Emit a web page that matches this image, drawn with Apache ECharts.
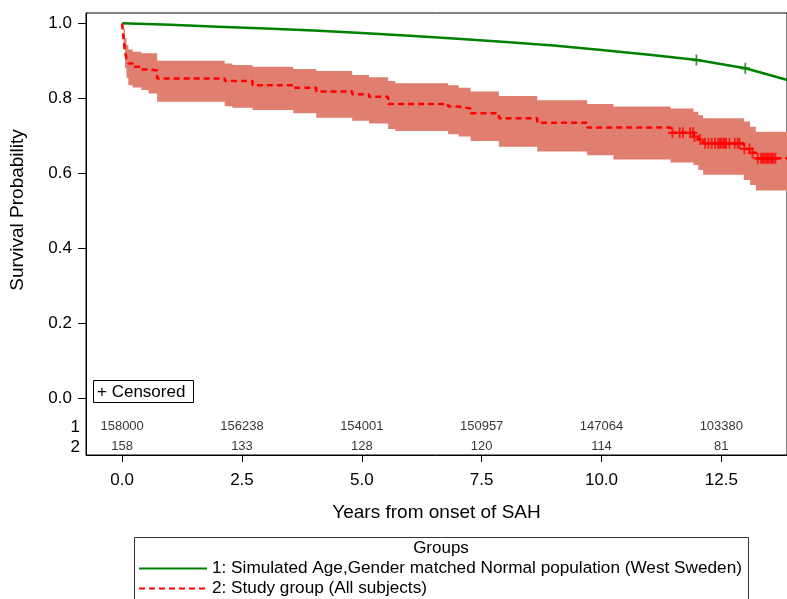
<!DOCTYPE html>
<html><head><meta charset="utf-8">
<script src="https://cdn.jsdelivr.net/npm/echarts@6/dist/echarts.min.js"></script>
<style>html,body{margin:0;padding:0;background:#fff;overflow:hidden}#c{width:787px;height:599px}</style>
</head><body><div id="c"></div>
<script>
// ---- data ----
const xTicks = [0, 2.5, 5, 7.5, 10, 12.5];
const yTicks = [0, 0.2, 0.4, 0.6, 0.8, 1.0];
const groupNames = ['1: Simulated Age,Gender matched Normal population (West Sweden)', '2: Study group (All subjects)'];

const normTime = [0, 1, 2, 3, 4, 5, 6, 7, 8, 9, 10, 11, 12, 13, 13.9];
const normSurv = [1.000, 0.996, 0.991, 0.986, 0.981, 0.974, 0.967, 0.959, 0.950, 0.941, 0.929, 0.916, 0.902, 0.880, 0.848];
const normCensorTime = [11.98, 13.0];
const normCensorSurv = [0.902, 0.880];

const studyTime  = [0, 0.03, 0.06, 0.09, 0.13, 0.22, 0.4, 0.55, 0.73, 2.14, 2.3, 2.72, 3.57, 4.05, 4.8, 5.15, 5.55, 5.7, 6.8, 7.02, 7.27, 7.86, 8.66, 9.7, 10.25, 11.44, 11.92, 12.02, 12.12, 12.97, 13.1, 13.22, 13.9];
const studySurv  = [1.0, 0.96, 0.925, 0.905, 0.893, 0.884, 0.877, 0.874, 0.853, 0.846, 0.846, 0.835, 0.828, 0.818, 0.811, 0.804, 0.785, 0.785, 0.778, 0.773, 0.760, 0.747, 0.735, 0.722, 0.722, 0.708, 0.698, 0.690, 0.680, 0.665, 0.655, 0.640, 0.640];
const studyUpper = [1.0, 0.985, 0.96, 0.942, 0.93, 0.924, 0.92, 0.92, 0.90, 0.893, 0.889, 0.884, 0.878, 0.873, 0.862, 0.856, 0.846, 0.84, 0.835, 0.828, 0.818, 0.806, 0.795, 0.785, 0.778, 0.773, 0.764, 0.755, 0.747, 0.738, 0.724, 0.711, 0.711];
const studyLower = [1.0, 0.93, 0.88, 0.855, 0.835, 0.829, 0.822, 0.813, 0.791, 0.779, 0.775, 0.769, 0.76, 0.748, 0.74, 0.733, 0.718, 0.713, 0.704, 0.698, 0.686, 0.671, 0.658, 0.648, 0.637, 0.629, 0.622, 0.609, 0.596, 0.582, 0.569, 0.554, 0.554];
const studyCensorTime = [11.48, 11.63, 11.70, 11.85, 11.91, 11.94, 12.06, 12.16, 12.23, 12.30, 12.37, 12.43, 12.47, 12.50, 12.54, 12.57, 12.60, 12.67, 12.78, 12.84, 12.88, 12.98, 13.09, 13.15, 13.26, 13.33, 13.36, 13.39, 13.43, 13.46, 13.49, 13.53, 13.56, 13.59, 13.63];

const atRiskTimes = [0, 2.5, 5, 7.5, 10, 12.5];
const atRiskNormal = [158000, 156238, 154001, 150957, 147064, 103380];
const atRiskStudy = [158, 133, 128, 120, 114, 81];

// ---- chart ----
const FONT = '"Liberation Sans", Arial, Helvetica, sans-serif';
const stepVal = t => { let v = studySurv[0]; for (let i = 0; i < studyTime.length; i++) { if (studyTime[i] <= t) v = studySurv[i]; } return v; };
const plus = 'path://M4,0H6V10H4Z M0,4H10V6H0Z';
const chart = echarts.init(document.getElementById('c'), null, {renderer: 'canvas'});

function renderBand(params, api) {
  if (params.dataIndex !== 0) return null;
  const n = studyTime.length;
  const pts = [];
  for (let i = 0; i < n; i++) {
    const x0 = studyTime[i], x1 = i < n - 1 ? studyTime[i + 1] : studyTime[i];
    pts.push(api.coord([x0, studyUpper[i]]), api.coord([x1, studyUpper[i]]));
  }
  for (let i = n - 1; i >= 0; i--) {
    const x0 = studyTime[i], x1 = i < n - 1 ? studyTime[i + 1] : studyTime[i];
    pts.push(api.coord([x1, studyLower[i]]), api.coord([x0, studyLower[i]]));
  }
  return {type: 'polygon', shape: {points: pts}, style: {fill: '#E07F6F', stroke: 'none'}};
}

const option = {
  animation: false,
  textStyle: {fontFamily: FONT},
  grid: {left: 86, top: 13, right: -11, bottom: 144, show: true, borderColor: '#000', borderWidth: 1, backgroundColor: 'transparent'},
  xAxis: {
    type: 'value', min: -0.754, max: 13.87,
    name: 'Years from onset of SAH', nameLocation: 'middle', nameGap: 48,
    nameTextStyle: {fontSize: 19, color: '#000', fontFamily: FONT},
    axisLine: {show: true, onZero: false, lineStyle: {color: '#000', width: 1}},
    axisTick: {show: true, length: 7, customValues: xTicks, lineStyle: {color: '#000'}},
    axisLabel: {customValues: xTicks, formatter: v => Number(v).toFixed(1), fontSize: 17, color: '#000', margin: 17, fontFamily: FONT},
    splitLine: {show: false}
  },
  yAxis: {
    type: 'value', min: -0.151, max: 1.0275,
    axisLine: {show: true, onZero: false, lineStyle: {color: '#000', width: 1}},
    axisTick: {show: true, length: 8, customValues: yTicks, lineStyle: {color: '#000'}},
    axisLabel: {customValues: yTicks, formatter: v => Number(v).toFixed(1), fontSize: 17, color: '#000', margin: 14, fontFamily: FONT},
    splitLine: {show: false}
  },
  legend: {
    data: groupNames, orient: 'vertical', left: 138, top: 560, padding: 0,
    itemWidth: 68, itemHeight: 14, itemGap: 3, selectedMode: false,
    itemStyle: {opacity: 0},
    textStyle: {fontSize: 17.2, color: '#000', fontFamily: FONT}
  },
  graphic: [
    {type: 'rect', shape: {x: 134.5, y: 537.5, width: 614, height: 70}, style: {fill: 'none', stroke: '#333', lineWidth: 1}, silent: true},
    {type: 'text', x: 441, y: 548, style: {text: 'Groups', fontSize: 17, fontFamily: FONT, fill: '#000', align: 'center', verticalAlign: 'middle'}},
    {type: 'rect', shape: {x: 93.5, y: 380.5, width: 100, height: 22}, style: {fill: '#fff', stroke: '#000', lineWidth: 1}, z: 100},
    {type: 'text', x: 97, y: 392, z: 101, style: {text: '+ Censored', fontSize: 17, fontFamily: FONT, fill: '#000', align: 'left', verticalAlign: 'middle'}},
    {type: 'text', x: 80, y: 427, style: {text: '1', fontSize: 17, fontFamily: FONT, fill: '#000', align: 'right', verticalAlign: 'middle'}},
    {type: 'text', x: 80, y: 447, style: {text: '2', fontSize: 17, fontFamily: FONT, fill: '#000', align: 'right', verticalAlign: 'middle'}},
    {type: 'text', x: 18, y: 210, rotation: Math.PI / 2, style: {text: 'Survival Probability', fontSize: 19, fontFamily: FONT, fill: '#000', align: 'center', verticalAlign: 'middle'}}
  ],
  series: [
    {name: 'band', type: 'custom', z: 1, silent: true, clip: true, renderItem: renderBand,
     encode: {x: 0, y: [1, 2]},
     data: studyTime.map((t, i) => [t, studyUpper[i], studyLower[i]])},
    {name: groupNames[0], type: 'line', symbol: 'none', z: 3,
     data: normTime.map((t, i) => [t, normSurv[i]]),
     lineStyle: {color: '#008000', width: 2.5}, itemStyle: {color: '#008000'}},
    {name: groupNames[1], type: 'line', step: 'end', symbol: 'none', z: 4,
     data: studyTime.map((t, i) => [t, studySurv[i]]),
     lineStyle: {color: '#FF0000', width: 2.5, type: [6, 4]}, itemStyle: {color: '#FF0000'}},
    {type: 'scatter', symbol: plus, symbolSize: [9, 11], z: 5, silent: true,
     data: normCensorTime.map((t, i) => [t, normCensorSurv[i]]), itemStyle: {color: '#008000'}},
    {type: 'scatter', symbol: plus, symbolSize: [9, 11], z: 5, silent: true,
     data: studyCensorTime.map(t => [t, stepVal(t)]), itemStyle: {color: '#FF0000'}},
    {type: 'scatter', symbolSize: 0, silent: true, z: 6,
     data: atRiskTimes.map((t, i) => [t, -0.0755, atRiskNormal[i]]),
     label: {show: true, position: 'inside', formatter: p => String(p.value[2]), fontSize: 13, color: '#000', fontFamily: FONT}},
    {type: 'scatter', symbolSize: 0, silent: true, z: 6,
     data: atRiskTimes.map((t, i) => [t, -0.1288, atRiskStudy[i]]),
     label: {show: true, position: 'inside', formatter: p => String(p.value[2]), fontSize: 13, color: '#000', fontFamily: FONT}}
  ]
};
chart.setOption(option);
</script>
</body></html>
